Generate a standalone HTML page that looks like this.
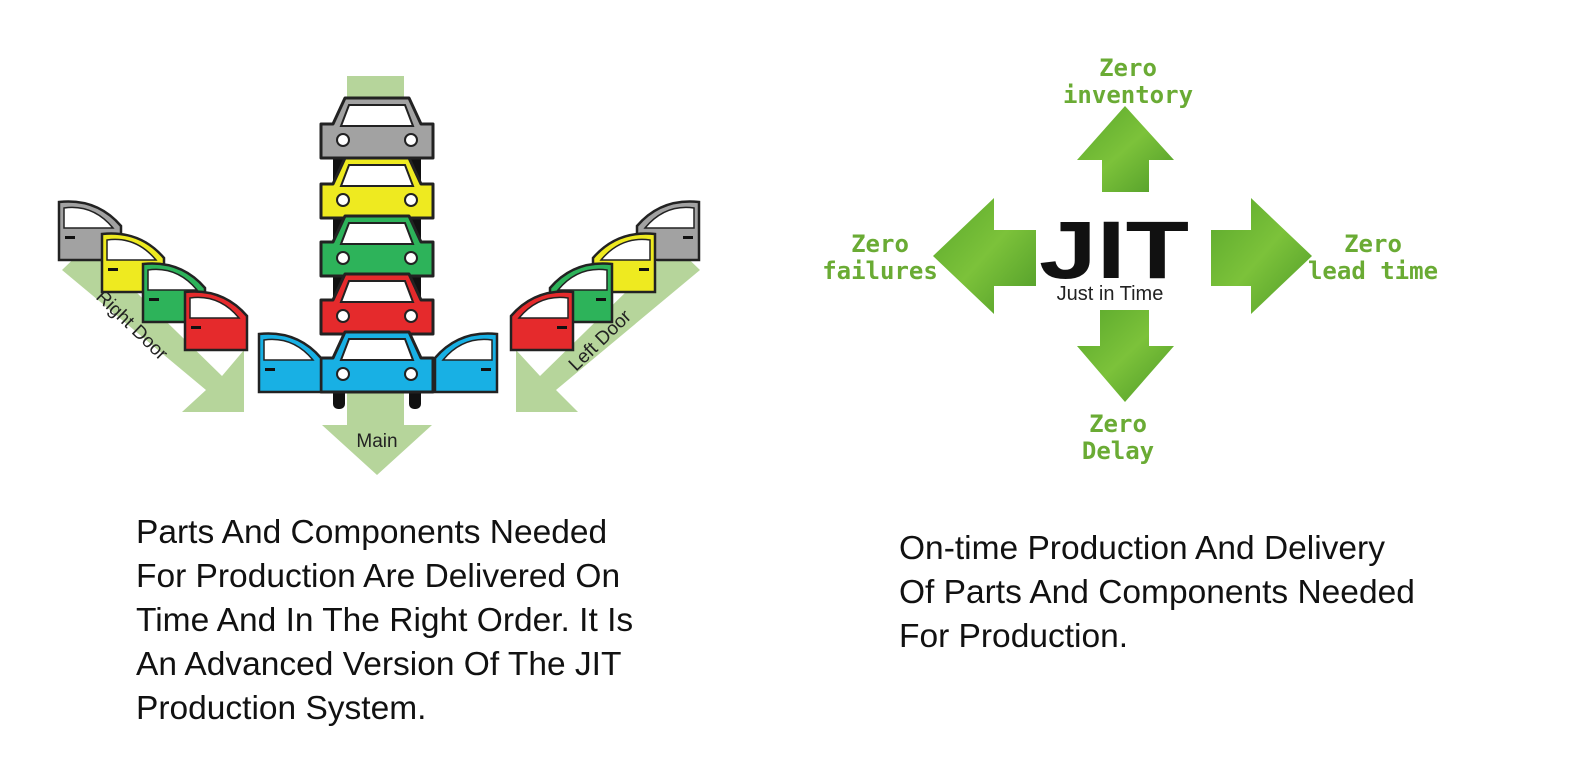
<!DOCTYPE html>
<html><head><style>
body{margin:0;background:#fff;width:1584px;height:760px;overflow:hidden;position:relative;font-family:"Liberation Sans",sans-serif}
.t{position:absolute;font-size:33.5px;line-height:44px;color:#111;font-family:"Liberation Sans",sans-serif;white-space:nowrap}
</style></head><body>
<svg width="1584" height="760" style="position:absolute;left:0;top:0">
<defs>
<g id="car">
 <path d="M26 2 H90 L102 28 H114 V62 H2 V28 H14 Z" stroke="#222" stroke-width="3" stroke-linejoin="round"/>
 <path d="M30 9 H86 L94 30 H22 Z" fill="#fff" stroke="#222" stroke-width="2"/>
 <circle cx="24" cy="44" r="6" fill="#fff" stroke="#222" stroke-width="2"/>
 <circle cx="92" cy="44" r="6" fill="#fff" stroke="#222" stroke-width="2"/>
</g>
<g id="doorR">
 <path d="M2 4 Q40 0 64 28 V62 H2 Z" stroke="#222" stroke-width="2.5"/>
 <path d="M7 10 Q36 6 56 30 H7 Z" fill="#fff" stroke="#222" stroke-width="1.5"/>
 <rect x="8" y="38" width="10" height="3" fill="#111"/>
</g>
<g id="doorL">
 <path d="M64 4 Q26 0 2 28 V62 H64 Z" stroke="#222" stroke-width="2.5"/>
 <path d="M59 10 Q30 6 10 30 H59 Z" fill="#fff" stroke="#222" stroke-width="1.5"/>
 <rect x="48" y="38" width="10" height="3" fill="#111"/>
</g>
<linearGradient id="gg" x1="0" y1="0" x2="1" y2="1"><stop offset="0" stop-color="#5aa82c"/><stop offset="0.5" stop-color="#7cc23a"/><stop offset="1" stop-color="#4e9a28"/></linearGradient>
</defs>
<rect x="347" y="76" width="57" height="350" fill="#b6d59b"/>
<polygon points="322,425 432,425 377,475" fill="#b6d59b"/>
<text x="377" y="447" font-size="19" text-anchor="middle" fill="#222">Main</text>
<polygon points="62,270 88,245 222,376 244,350 244,412 182,412 206,390" fill="#b6d59b"/>
<text transform="translate(95,298) rotate(44)" font-size="19" fill="#222">Right Door</text>
<polygon points="700,270 674,245 540,376 516,350 516,412 578,412 556,390" fill="#b6d59b"/>
<text transform="translate(576,372) rotate(-44)" font-size="19" fill="#222">Left Door</text>
<rect x="333" y="385" width="12" height="24" rx="5" fill="#111"/>
<rect x="409" y="385" width="12" height="24" rx="5" fill="#111"/>
<rect x="333" y="150" width="12" height="180" fill="#111"/>
<rect x="409" y="150" width="12" height="180" fill="#111"/>
<use href="#car" x="319" y="96" fill="#a2a2a2"/>
<use href="#car" x="319" y="156" fill="#eeea20"/>
<use href="#car" x="319" y="214" fill="#2db35a"/>
<use href="#car" x="319" y="272" fill="#e52a2c"/>
<use href="#car" x="319" y="330" fill="#18b0e4"/>
<use href="#doorR" x="57" y="198" fill="#a2a2a2"/>
<use href="#doorR" x="100" y="230" fill="#eeea20"/>
<use href="#doorR" x="141" y="260" fill="#2db35a"/>
<use href="#doorR" x="183" y="288" fill="#e52a2c"/>
<use href="#doorR" x="257" y="330" fill="#18b0e4"/>
<use href="#doorL" x="635" y="198" fill="#a2a2a2"/>
<use href="#doorL" x="591" y="230" fill="#eeea20"/>
<use href="#doorL" x="548" y="260" fill="#2db35a"/>
<use href="#doorL" x="509" y="288" fill="#e52a2c"/>
<use href="#doorL" x="433" y="330" fill="#18b0e4"/>
<polygon points="1125,106 1174,160 1149,160 1149,192 1102,192 1102,160 1077,160" fill="url(#gg)"/>
<polygon points="933,256 994,198 994,230 1036,230 1036,286 994,286 994,314" fill="url(#gg)"/>
<polygon points="1312,256 1251,198 1251,230 1211,230 1211,286 1251,286 1251,314" fill="url(#gg)"/>
<polygon points="1125,402 1174,346 1149,346 1149,310 1100,310 1100,346 1077,346" fill="url(#gg)"/>
<text x="1114" y="278" font-size="82" font-weight="bold" text-anchor="middle" fill="#111" textLength="150" lengthAdjust="spacingAndGlyphs">JIT</text>
<text x="1110" y="300" font-size="20" text-anchor="middle" fill="#222">Just in Time</text>
<g font-family="DejaVu Sans Mono,monospace" font-weight="bold" font-size="24" fill="#6aab34" text-anchor="middle">
<text x="1128" y="76">Zero</text><text x="1128" y="103">inventory</text>
<text x="880" y="252">Zero</text><text x="880" y="279">failures</text>
<text x="1373" y="252">Zero</text><text x="1373" y="279">lead time</text>
<text x="1118" y="432">Zero</text><text x="1118" y="459">Delay</text>
</g>
</svg>
<div class="t" style="left:136px;top:511px">Parts And Components Needed<br>For Production Are Delivered On<br>Time And In The Right Order. It Is<br>An Advanced Version Of The JIT<br>Production System.</div>
<div class="t" style="left:899px;top:527px">On-time Production And Delivery<br>Of Parts And Components Needed<br>For Production.</div>
</body></html>
